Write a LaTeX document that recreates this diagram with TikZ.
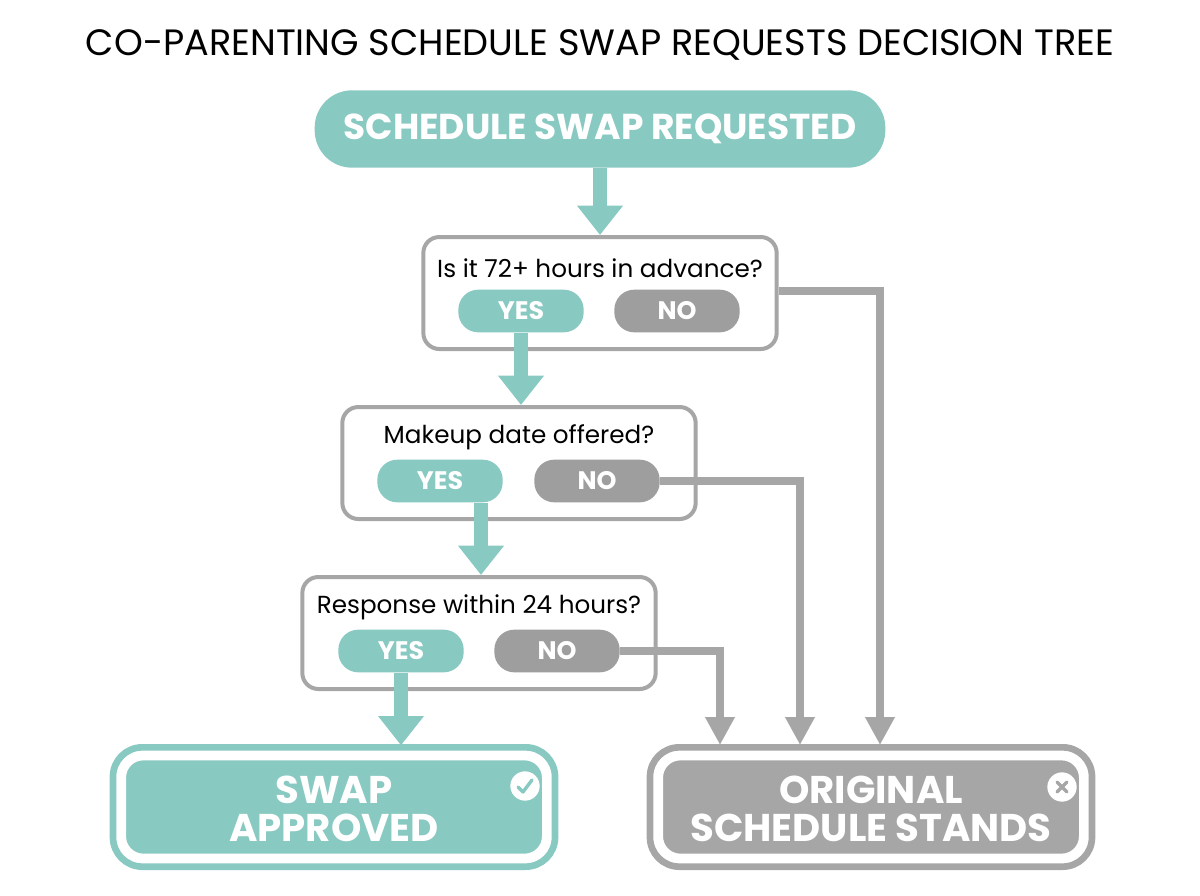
\documentclass[tikz,border=0pt]{standalone}
\usepackage{fontspec}
\setmainfont{Poppins}
\usetikzlibrary{arrows.meta,calc}
\definecolor{teal}{HTML}{88C9C1}
\definecolor{gr}{HTML}{A6A6A6}
\definecolor{grp}{HTML}{9E9E9E}
\begin{document}
\begin{tikzpicture}[x=0.75pt,y=-0.75pt,
  qbox/.style={draw=gr,line width=3pt,fill=white,rounded corners=12pt,minimum width=265pt,minimum height=84pt},
  qtext/.style={font=\fontsize{18.5}{20}\selectfont,text=black},
  pill/.style={rounded corners=15pt,minimum width=94pt,minimum height=32pt,text=white,font=\fontsize{19}{20}\selectfont\bfseries},
  yes/.style={pill,fill=teal},
  no/.style={pill,fill=grp},
  tarrow/.style={draw=teal,line width=10pt,-{Triangle[width=33pt,length=22pt]}},
  garrow/.style={draw=gr,line width=6pt,-{Triangle[width=21pt,length=21pt]}},
  endbox/.style={rounded corners=18pt,minimum width=322pt,minimum height=80pt,line width=3.5pt,
    double distance=3pt,draw=white,inner sep=0pt},
  endtext/.style={text=white,align=center,font=\fontsize{29}{28}\selectfont\bfseries}
]
\useasboundingbox (0,0) rectangle (1200,896);
\node[font=\fontsize{27.5}{30}\selectfont] (title) at (600,45) {CO-PARENTING SCHEDULE SWAP REQUESTS DECISION TREE};
\node[fill=teal,rounded corners=28pt,minimum width=428pt,minimum height=58pt,text=white,font=\fontsize{27}{30}\selectfont\bfseries] (start) at (600,129) {SCHEDULE SWAP REQUESTED};

\node[qbox] (q1) at (600,293) {};
\node[qtext] (t1) at (600,268) {Is it 72+ hours in advance?};
\node[yes] (y1) at (521,311) {YES};
\node[no] (n1) at (677,311) {NO};

\node[qbox] (q2) at (519,463) {};
\node[qtext] (t2) at (519,437) {Makeup date offered?};
\node[yes] (y2) at (440,481) {YES};
\node[no] (n2) at (597,481) {NO};

\node[qbox] (q3) at (479,633) {};
\node[qtext] (t3) at (479,607) {Response within 24 hours?};
\node[yes] (y3) at (401,651) {YES};
\node[no] (n3) at (557,651) {NO};

% end boxes
\node[endbox,fill=teal] (sa) at (334,807) {};
\draw[teal,line width=5pt,rounded corners=22pt] ($(sa.south west)+(-4,4)$) rectangle ($(sa.north east)+(4,-4)$);
\node[endtext] (sat) at (334,809) {SWAP\\APPROVED};
\node[endbox,fill=gr] (os) at (871,807) {};
\draw[gr,line width=5pt,rounded corners=22pt] ($(os.south west)+(-4,4)$) rectangle ($(os.north east)+(4,-4)$);
\node[endtext] (ost) at (871,809) {ORIGINAL\\SCHEDULE STANDS};

\node[circle,fill=white,minimum size=22pt,inner sep=0pt] (ck) at (525,786) {};
\draw[teal,line width=2.5pt,line cap=round,line join=round] ($(ck)+(-7,1)$) -- ($(ck)+(-2,6)$) -- ($(ck)+(7,-6)$);
\node[circle,fill=white,minimum size=22pt,inner sep=0pt] (xx) at (1062,787) {};
\draw[gr,line width=2.5pt,line cap=round] ($(xx)+(-5,-5)$) -- ($(xx)+(5,5)$) ($(xx)+(-5,5)$) -- ($(xx)+(5,-5)$);

% teal arrows
\draw[tarrow] (start.south) -- (q1.north);
\draw[tarrow] (y1.south) -- (y1.south |- q2.north);
\draw[tarrow] ($(y2.south)+(41,0)$) -- ($(y2.south |- q3.north)+(41,0)$);
\coordinate (a4) at ($(sa.north west)+(293,-6)$);
\draw[tarrow] (y3.south) -- (y3.south |- a4);

% gray connectors
\coordinate (g1) at (880,745);
\coordinate (g2) at (800,745);
\coordinate (g3) at (720,745);
\draw[garrow] ($(q1.east)+(0,-2)$) -| (g1);
\draw[garrow] (n2.east) -| (g2);
\draw[garrow] (n3.east) -| (g3);
\end{tikzpicture}
\end{document}
